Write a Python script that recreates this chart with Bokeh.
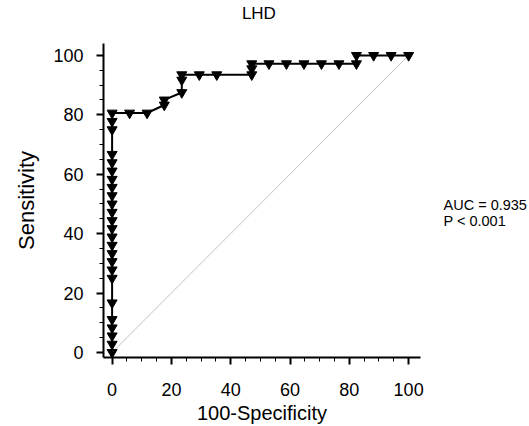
from bokeh.plotting import figure
from bokeh.layouts import row, column
from bokeh.models import FixedTicker, Label, Range1d
from bokeh.embed import file_html
from bokeh.resources import INLINE

# ROC points (100-Specificity, Sensitivity), in plotting order
fpr = [0, 0, 0, 0, 0, 0, 0, 0, 0, 0, 0, 0, 0, 0, 0, 0, 0, 0, 0, 0, 0, 0, 0, 0, 0,
       5.9, 11.8, 17.6, 17.6, 23.5, 23.5, 23.5, 29.4, 35.3, 47.1, 47.1, 47.1,
       52.9, 58.8, 64.7, 70.6, 76.5, 82.4, 82.4, 88.2, 94.1, 100]
sens = [0, 2.8, 5.6, 8.3, 11.1, 16.7, 25.0, 27.8, 30.6, 33.3, 36.1, 38.9, 41.7,
        44.4, 47.2, 50.0, 52.8, 55.6, 58.3, 61.1, 63.9, 66.7, 75.0, 77.8, 80.6,
        80.6, 80.6, 83.3, 85.0, 87.5, 91.7, 93.5, 93.5, 93.5, 93.5, 95.5, 97.2,
        97.2, 97.2, 97.2, 97.2, 97.2, 97.2, 100, 100, 100, 100]
diag_x = [0, 100]
diag_y = [0, 100]
major_ticks = [0, 20, 40, 60, 80, 100]
minor_ticks = list(range(0, 101, 5))
title_text = "LHD"
x_label = "100-Specificity"
y_label = "Sensitivity"
auc_text = "AUC = 0.935"
p_text = "P < 0.001"

FONT = "Liberation Sans"
X_RANGE = (-2.9, 104)
Y_RANGE = (-1.7, 104)
TOP = 43

# title strip above the plot
head = figure(width=425, height=TOP, x_range=Range1d(*X_RANGE),
              y_range=Range1d(TOP, 0), output_backend="svg",
              toolbar_location=None, min_border_left=103, min_border_right=5,
              min_border_top=0, min_border_bottom=0,
              x_axis_location=None, y_axis_location=None)
head.outline_line_color = None
head.grid.visible = False
head.add_layout(Label(x=49.5, y=13, text=title_text, text_font=FONT,
                      text_font_size="17px", text_color="black",
                      text_align="center", text_baseline="middle"))

p = figure(width=425, height=426 - TOP, x_range=X_RANGE, y_range=Y_RANGE,
           output_backend="svg", toolbar_location=None,
           min_border_left=103, min_border_right=5, min_border_top=0,
           min_border_bottom=68)
p.outline_line_color = None
p.grid.visible = False
p.background_fill_color = "white"
p.border_fill_color = "white"

for ax in (p.xaxis[0], p.yaxis[0]):
    ax.ticker = FixedTicker(ticks=major_ticks, minor_ticks=minor_ticks)
    ax.axis_line_width = 2
    ax.axis_line_color = "black"
    ax.major_tick_line_width = 2
    ax.major_tick_line_color = "black"
    ax.minor_tick_line_width = 1
    ax.minor_tick_line_color = "black"
    ax.major_tick_out = 7
    ax.major_tick_in = 0
    ax.minor_tick_out = 4
    ax.minor_tick_in = 0
    ax.major_label_text_font = FONT
    ax.major_label_text_font_size = "18px"
    ax.major_label_text_color = "black"
    ax.axis_label_text_font = FONT
    ax.axis_label_text_font_style = "normal"
    ax.axis_label_text_color = "black"

p.xaxis.axis_label = x_label
p.yaxis.axis_label = y_label
p.xaxis.axis_label_text_font_size = "20px"
p.yaxis.axis_label_text_font_size = "22px"
p.xaxis.major_label_standoff = 18
p.yaxis.major_label_standoff = 13
p.xaxis.axis_label_standoff = 3
p.yaxis.axis_label_standoff = 11

p.line(diag_x, diag_y, line_color="#c0c0c0", line_width=1)
p.line(fpr, sens, line_color="black", line_width=2)
p.scatter(fpr, sens, marker="inverted_triangle", size=10,
          fill_color="black", line_color="black")

# side panel for the AUC annotation, sharing the vertical scale of the plot
side = figure(width=104, height=426 - TOP, x_range=Range1d(0, 104),
              y_range=Range1d(*Y_RANGE), output_backend="svg",
              toolbar_location=None, min_border_left=0, min_border_right=0,
              min_border_top=0, min_border_bottom=68,
              x_axis_location=None, y_axis_location=None)
side.outline_line_color = None
side.grid.visible = False
side.add_layout(Label(x=18, y=49.7, text=auc_text, text_font=FONT,
                      text_font_size="14.5px", text_color="black",
                      text_baseline="middle"))
side.add_layout(Label(x=18, y=44.3, text=p_text, text_font=FONT,
                      text_font_size="14.5px", text_color="black",
                      text_baseline="middle"))

layout = column(head, row(p, side, spacing=0), spacing=0)
open("out.html", "w").write(file_html(layout, INLINE))
